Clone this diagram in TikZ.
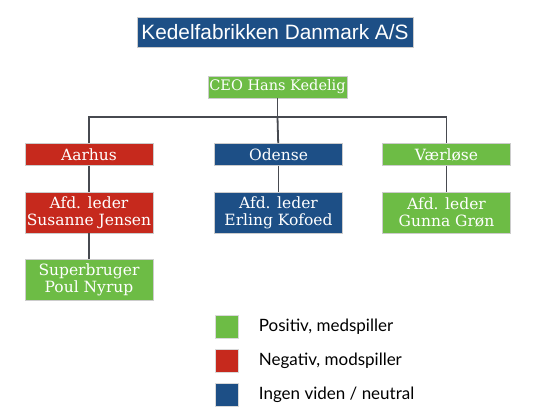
\documentclass[tikz,border=0pt]{standalone}
\usepackage{fontspec}
\setmainfont{DejaVu Serif}
\newfontfamily\titlefont{Liberation Sans}
\newfontfamily\legendfont{Lato}
\usepackage{xcolor}
\usepackage{tikz}
\usetikzlibrary{positioning, shadows}

\definecolor{pos}{HTML}{6DBC45}
\definecolor{neg}{HTML}{C6291D}
\definecolor{neu}{HTML}{1D4F86}
\definecolor{conn}{HTML}{474A50}

\begin{document}
\begin{tikzpicture}[
  x=1pt, y=1pt,
  node distance=26pt and 20pt,
  box/.style={draw=black!20, line width=0.6pt, text=white, align=center,
              minimum width=128pt, minimum height=22pt, inner sep=2pt,
              font=\fontsize{15.5}{17}\selectfont,
              drop shadow={shadow xshift=0.8pt, shadow yshift=-0.8pt, opacity=0.25}},
  tall/.style={box, minimum height=41pt},
  posbox/.style={box, fill=pos},
  negbox/.style={box, fill=neg},
  neubox/.style={box, fill=neu},
  key/.style={draw=black!15, minimum size=23pt, inner sep=0pt,
              drop shadow={shadow xshift=0.8pt, shadow yshift=-0.8pt, opacity=0.25}},
  keytext/.style={anchor=west, inner sep=0pt, font=\legendfont\fontsize{17}{19}\selectfont},
  line/.style={draw=conn, line width=1.8pt},
]
\useasboundingbox (0,0) rectangle (550,-411);

% title
\node[neubox, minimum width=276pt, minimum height=30pt,
      font=\titlefont\fontsize{20.8}{24}\selectfont] (title) at (275,-32)
  {Kedelfabrikken Danmark A/S};

% top
\node[posbox, minimum width=139pt, minimum height=22pt, inner xsep=1pt,
      font=\fontsize{14.5}{17}\selectfont] (ceo) at (277.5,-87)
  {CEO Hans Kedelig};
\coordinate (bus) at (277.5,-117);

% departments
\node[negbox] (aarhus) at (89,-154.5) {Aarhus};
\node[neubox] (odense) at (278.5,-154.5) {Odense};
\node[posbox] (vaerlose) at (446.5,-154.5) {Værløse};

\node[negbox, tall, below=of aarhus] (susanne) {Afd. leder\\Susanne Jensen};
\node[neubox, tall, below=of odense] (erling) {Afd. leder\\Erling Kofoed};
\node[posbox, tall, below=of vaerlose] (gunna) {Afd. leder\\Gunna Grøn};
\node[posbox, tall, below=of susanne] (poul) {Superbruger\\Poul Nyrup};

% connectors
\draw[line] (ceo) -- (bus);
\draw[line] (bus) -| (aarhus);
\draw[line] (bus) -| (vaerlose);
\draw[line] (bus) -- (odense);
\draw[line] (aarhus) -- (susanne);
\draw[line] (odense) -- (erling);
\draw[line] (vaerlose) -- (gunna);
\draw[line] (susanne) -- (poul);

% legend
\node[key, fill=pos] (kpos) at (227,-327) {};
\node[key, fill=neg, below=10.5pt of kpos] (kneg) {};
\node[key, fill=neu, below=10.5pt of kneg] (kneu) {};
\node[keytext, right=20pt of kpos] (tpos) {Positiv, medspiller};
\node[keytext, right=20pt of kneg] (tneg) {Negativ, modspiller};
\node[keytext, right=20pt of kneu] (tneu) {Ingen viden / neutral};
\end{tikzpicture}
\end{document}
